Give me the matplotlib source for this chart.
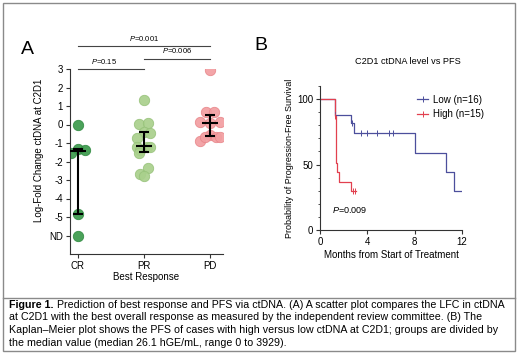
import matplotlib
matplotlib.use("Agg")
import matplotlib.pyplot as plt
from matplotlib.lines import Line2D
from matplotlib.patches import Rectangle

plt.rcParams['font.family'] = ['Liberation Sans', 'DejaVu Sans']
plt.rcParams['mathtext.fontset'] = 'custom'
plt.rcParams['mathtext.it'] = 'Liberation Sans:italic'
plt.rcParams['mathtext.rm'] = 'Liberation Sans'

# --- panel A data: log-fold change at C2D1 by best response (ND plotted at -6)
groups = ['CR', 'PR', 'PD']
cr_vals = [0.0, -1.3, -1.4, -1.55, -4.85, -6.0]
cr_jit = [0.0, 0.0, 0.1, -0.11, 0.0, 0.0]
pr_vals = [1.33, 0.01, 0.07, -0.4, -0.47, -0.74, -1.2, -1.2, -1.2, -1.37, -1.55, -2.33, -2.69, -2.76]
pr_jit = [0.0, -0.07, 0.065, 0.0, 0.1, -0.1, -0.11, 0.04, 0.1, -0.06, -0.07, 0.065, -0.06, 0.0]
pd_vals = [2.95, 0.66, 0.66, 0.12, 0.12, 0.1, -0.56, -0.65, -0.65, -0.89, -0.7]
pd_jit = [0.0, -0.065, 0.065, -0.15, 0.15, 0.0, 0.0, 0.1, 0.15, -0.15, -0.08]
medians = [-1.45, -1.15, 0.1]
q_low = [-4.85, -1.5, -0.62]
q_high = [-1.35, -0.42, 0.52]
ytick_vals = [3, 2, 1, 0, -1, -2, -3, -4, -5, -6]
ytick_labels = ['3', '2', '1', '0', '-1', '-2', '-3', '-4', '-5', 'ND']
comparisons = [(0, 1, 'P=0.15'), (1, 2, 'P=0.006'), (0, 2, 'P=0.001')]

# --- panel B data: Kaplan-Meier steps
low_t = [0, 1.24, 2.6, 2.85, 8.05, 10.65, 11.3, 12.0]
low_s = [100, 87.5, 81.5, 73.8, 59.0, 44.4, 29.6, 29.6]
low_cens_t = [1.3, 2.7, 3.5, 3.95, 4.85, 5.8, 6.15]
low_cens_s = [87.5, 81.5, 73.8, 73.8, 73.8, 73.8, 73.8]
high_t = [0, 1.24, 1.33, 1.47, 1.62, 2.6, 3.05]
high_s = [100, 87.0, 51.0, 44.0, 36.5, 29.5, 29.5]
high_cens_t = [1.28, 2.75, 2.95]
high_cens_s = [87.0, 29.5, 29.5]

cr_col, pr_col, pd_col = '#3b9a4c', '#a9d08c', '#f29ea1'
cr_edge, pr_edge, pd_edge = '#2f8a40', '#97c27a', '#e8868a'
low_col, high_col = '#4c4f9c', '#e2404f'

W, H = 520, 353
fig = plt.figure(figsize=(W / 100, H / 100), dpi=100)

def fx(px):
    return px / W

def fy(py):
    return 1 - py / H

# outer border and caption box
fig.patches.append(Rectangle((fx(3), fy(351)), fx(512), 348 / H, transform=fig.transFigure,
                             fill=False, edgecolor='#8a8a8a', lw=1))
fig.lines.append(Line2D([fx(3), fx(515)], [fy(298), fy(298)], transform=fig.transFigure,
                        color='#8a8a8a', lw=1))

# ---------------- panel A ----------------
axA = fig.add_axes([fx(70), fy(254), fx(153), (254 - 69) / H])
for i, (vals, jit, c, ec) in enumerate([(cr_vals, cr_jit, cr_col, cr_edge),
                                        (pr_vals, pr_jit, pr_col, pr_edge),
                                        (pd_vals, pd_jit, pd_col, pd_edge)]):
    axA.scatter([i + j for j in jit], vals, s=56, color=c, edgecolors=ec, linewidths=0.6,
                alpha=0.92, zorder=2)
    axA.errorbar(i, medians[i], yerr=[[medians[i] - q_low[i]], [q_high[i] - medians[i]]],
                 fmt='none', ecolor='black', elinewidth=1.5, capsize=3.5, capthick=1.5, zorder=3)
    axA.hlines(medians[i], i - 0.12, i + 0.12, color='black', lw=1.5, zorder=3)

axA.set_xlim(-0.12, 2.2)
axA.set_ylim(-7, 3)
axA.set_xticks(range(3))
axA.set_xticklabels(groups)
axA.set_yticks(ytick_vals)
axA.set_yticklabels(ytick_labels)
axA.spines['top'].set_visible(False)
axA.spines['right'].set_visible(False)
for s in ['left', 'bottom']:
    axA.spines[s].set_color('#333333')
    axA.spines[s].set_linewidth(0.8)
axA.tick_params(labelsize=7, length=3, width=0.8, color='#333333', pad=2)
axA.set_xlabel('Best Response', fontsize=7, labelpad=1)
axA.set_ylabel('Log-Fold Change ctDNA at C2D1', fontsize=7)
axA.yaxis.set_label_coords(-0.17, 0.56)

bar_y = [3.0, 3.56, 4.24]
for (a, b, lab), yb in zip(comparisons, bar_y):
    axA.plot([a, b], [yb, yb], color='#444444', lw=0.8, clip_on=False)
    axA.text((a + b) / 2 - (0.1 if b - a == 1 and a == 0 else 0.0), yb + 0.18,
             '$P$' + lab[1:], fontsize=5.5, ha='center', va='bottom')

fig.text(fx(27), fy(49), 'A', fontsize=14, ha='center', va='center')

# ---------------- panel B ----------------
axB = fig.add_axes([fx(320), fy(230), fx(142), (230 - 86) / H])
axB.step(low_t, low_s, where='post', color=low_col, lw=0.9)
axB.step(high_t, high_s, where='post', color=high_col, lw=0.9)
axB.plot(low_cens_t, low_cens_s, ls='none', marker='|', ms=4, mew=0.7, color=low_col)
axB.plot(high_cens_t, high_cens_s, ls='none', marker='|', ms=4, mew=0.7, color=high_col)
axB.set_xlim(0, 12)
axB.set_ylim(0, 110)
axB.set_xticks([0, 4, 8, 12])
axB.set_yticks([0, 50, 100])
axB.set_yticks(range(0, 111, 10), minor=True)
axB.spines['top'].set_visible(False)
axB.spines['right'].set_visible(False)
for s in ['left', 'bottom']:
    axB.spines[s].set_color('#333333')
    axB.spines[s].set_linewidth(0.8)
axB.tick_params(labelsize=7, length=3, width=0.8, color='#333333', pad=2)
axB.tick_params(which='minor', length=1.8, width=0.6, color='#333333')
axB.set_xlabel('Months from Start of Treatment', fontsize=7, labelpad=2)
axB.set_ylabel('Probability of Progression-Free Survival', fontsize=6.5, labelpad=2)
axB.text(1.0, 15, '$P$=0.009', fontsize=6.5, ha='left', va='center')
handles = [Line2D([], [], color=low_col, lw=0.9, marker='|', ms=4, mew=0.7),
           Line2D([], [], color=high_col, lw=0.9, marker='|', ms=4, mew=0.7)]
axB.legend(handles, ['Low (n=16)', 'High (n=15)'], loc='upper left', bbox_to_anchor=(0.62, 1.0),
           frameon=False, fontsize=7, handlelength=1.2, handletextpad=0.5, labelspacing=0.45)

fig.text(fx(261), fy(46), 'B', fontsize=14, ha='center', va='center')
fig.text(fx(408), fy(62), 'C2D1 ctDNA level vs PFS', fontsize=6.6, ha='center', va='center')

# ---------------- caption ----------------
cap_size = 7.65
lines = [' Prediction of best response and PFS via ctDNA. (A) A scatter plot compares the LFC in ctDNA',
         'at C2D1 with the best overall response as measured by the independent review committee. (B) The',
         'Kaplan\u2013Meier plot shows the PFS of cases with high versus low ctDNA at C2D1; groups are divided by',
         'the median value (median 26.1 hGE/mL, range 0 to 3929).']
line_y = [305, 317.5, 330, 342.5]
bold = fig.text(fx(9), fy(line_y[0]), 'Figure 1.', fontsize=cap_size, fontweight='bold', va='center')
r = fig.canvas.get_renderer()
bw = bold.get_window_extent(r).width
fig.text(fx(9) + bw / W, fy(line_y[0]), lines[0], fontsize=cap_size, va='center')
for txt, yy in zip(lines[1:], line_y[1:]):
    fig.text(fx(9), fy(yy), txt, fontsize=cap_size, va='center')

fig.savefig('out.png', dpi=100)
